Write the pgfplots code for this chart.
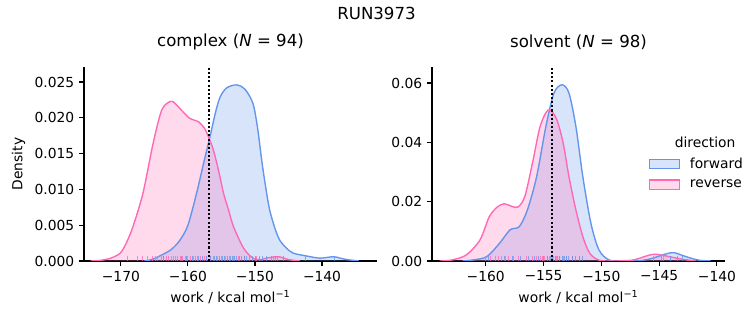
\documentclass[border=0pt]{standalone}
\usepackage{fontspec}
\setmainfont{DejaVu Sans}
\usepackage{pgfplots}
\usepackage{pgfplotstable}
\pgfplotsset{compat=1.18}
\definecolor{fwd}{HTML}{6495ED}
\definecolor{rev}{HTML}{FF69B4}

% complex, forward
\pgfplotstableread{
x y
-166.5 0
-165.4 0.0002
-164.0 0.0008
-162.5 0.0016
-161.2 0.0029
-160.0 0.0050
-158.7 0.0095
-157.7 0.0135
-156.7 0.0174
-155.9 0.0207
-155.2 0.0229
-154.2 0.0242
-152.7 0.0246
-151.5 0.0240
-150.3 0.0220
-149.6 0.0185
-149.0 0.0141
-148.4 0.0103
-147.8 0.0071
-147.0 0.0045
-146.3 0.0029
-145.3 0.0018
-144.3 0.0011
-142.3 0.0007
-140.3 0.0004
-138.3 0.0006
-137.3 0.0004
-136.3 0.0002
-134.5 0
}\cfwd
% complex, reverse
\pgfplotstableread{
x y
-174.5 0
-173.0 0.0001
-171.5 0.0004
-170.1 0.0011
-169.2 0.0025
-168.2 0.0048
-166.7 0.0095
-165.2 0.0164
-163.9 0.0211
-162.6 0.0223
-161.9 0.0220
-161.2 0.0213
-159.7 0.0199
-158.5 0.0195
-157.5 0.0185
-156.8 0.0170
-156.2 0.0155
-155.4 0.0125
-154.7 0.0095
-153.9 0.0070
-153.2 0.0048
-151.7 0.0018
-150.3 0.0004
-149.0 0.0002
-148.3 0.0004
-146.5 0.0006
-145.0 0.0002
-143.3 0
}\crev
% solvent, forward
\pgfplotstableread{
x y
-162.0 0
-161.0 0.0004
-159.9 0.0015
-158.8 0.0060
-157.9 0.0105
-157.1 0.0116
-156.4 0.0172
-155.6 0.0284
-154.8 0.0453
-154.1 0.0566
-153.4 0.0594
-152.8 0.0566
-152.2 0.0453
-151.6 0.0284
-150.9 0.0127
-150.2 0.0037
-149.3 0.0003
-148.0 0
-146.5 0.0002
-145.6 0.0009
-144.4 0.0024
-143.7 0.0028
-142.7 0.0015
-141.6 0.0003
-140.5 0
}\sfwd
% solvent, reverse
\pgfplotstableread{
x y
-164.0 0
-163.0 0.0003
-161.7 0.0020
-160.5 0.0071
-159.7 0.0149
-159.0 0.0182
-158.4 0.0193
-157.8 0.0185
-157.2 0.0182
-156.6 0.0220
-155.9 0.0341
-155.3 0.0453
-154.6 0.0509
-153.9 0.0481
-153.3 0.0397
-152.8 0.0284
-152.2 0.0172
-151.6 0.0082
-151.0 0.0026
-150.2 0.0003
-149.0 0
-147.3 0.0003
-146.1 0.0017
-145.4 0.0023
-144.4 0.0017
-143.0 0.0006
-141.8 0
}\srev
% rugs (x, rug height)
\pgfplotstableread{
x h
-169 1
-167.5 1
-166.8 1
-166 1
-165.3 1
-164.9 1
-164.5 1
-164 1
-163.6 1
-163.2 1
-162.9 1
-162.5 1
-162.2 1
-161.9 1
-161.5 1
-161.1 1
-160.8 1
-160.4 1
-160 1
-159.6 1
-159.2 1
-158.9 1
-158.5 1
-158.1 1
-157.6 1
-157.2 1
-156.7 1
-156.2 1
-155.6 1
-155 1
-154.4 1
-153.8 1
-153.2 1
-152.4 1
-151.5 1
-149.8 1
-147.2 1
-146.6 1
}\crevrug
\pgfplotstableread{
x h
-163.6 1
-161 1
-160.2 1
-159.3 1
-158.4 1
-157.8 1
-157.2 1
-156.6 1
-156.1 1
-155.7 1
-155.3 1
-154.9 1
-154.5 1
-154.1 1
-153.7 1
-153.4 1
-153 1
-152.7 1
-152.3 1
-152 1
-151.6 1
-151.2 1
-150.8 1
-150.4 1
-149.9 1
-149.4 1
-148.9 1
-148.3 1
-147.6 1
-146.9 1
-145.8 1
-142.5 1
-138.2 1
}\cfwdrug
\pgfplotstableread{
x h
-160 1
-159.6 1
-159.2 1
-158.9 1
-158.6 1
-158.3 1
-158 1
-157.6 1
-157.2 1
-156.5 1
-156 1
-155.6 1
-155.3 1
-155.1 1
-154.9 1
-154.7 1
-154.5 1
-154.3 1
-154.1 1
-153.9 1
-153.6 1
-153.3 1
-153 1
-152.5 1
-151.9 1
-145.5 1
-144.6 1
}\srevrug
\pgfplotstableread{
x h
-159.8 1
-158.4 1
-157.7 1
-157 1
-156.3 1
-155.8 1
-155.4 1
-155 1
-154.7 1
-154.4 1
-154.2 1
-154 1
-153.8 1
-153.6 1
-153.4 1
-153.2 1
-153 1
-152.8 1
-152.5 1
-152.2 1
-151.9 1
-151.6 1
-144.8 1
-144 1
-143.4 1
-143.0 1
}\sfwdrug

\pgfplotsset{
  kde/.style={
    scale only axis, width=2.93in, height=1.94in,
    axis lines=left, axis line style={-, line width=0.8pt},
    tick style={black, line width=0.8pt}, tick align=outside,
    major tick length=3.5pt,
    tick label style={font=\fontsize{10}{12}\selectfont},
    label style={font=\fontsize{10}{12}\selectfont},
    title style={font=\fontsize{12}{14}\selectfont, at={(0.5,1)}, anchor=south, yshift=3pt},
    scaled ticks=false, ymin=0, clip mode=individual,
    xlabel={work / kcal mol\textsuperscript{−1}},
  },
  fillf/.style={draw=none, fill=fwd, fill opacity=0.25},
  fillr/.style={draw=none, fill=rev, fill opacity=0.25},
  linef/.style={fwd, line width=1pt, smooth, tension=0.5},
  liner/.style={rev, line width=1pt, smooth, tension=0.5},
  rug/.style={ycomb, line width=0.7pt, draw opacity=0.75, no marks},
}

\begin{document}
\begin{tikzpicture}
\path[use as bounding box] (0,0) rectangle (7.53in,3.25in);
\node[font=\fontsize{12}{14}\selectfont] at (3.765in,3.12in) {RUN3973};

\begin{axis}[kde, at={(0.84in,0.64in)}, anchor=south west,
  xmin=-175.5, xmax=-131.8, ymax=0.0271,
  xtick={-170,-160,-150,-140}, xticklabels={−170,−160,−150,−140},
  ytick={0,0.005,0.010,0.015,0.020,0.025},
  yticklabels={0.000,0.005,0.010,0.015,0.020,0.025},
  ylabel={Density},
  title={complex (\textit{N} = 94)}]
\addplot[fillf, smooth, tension=0.5] table[x=x,y=y] {\cfwd} \closedcycle;
\addplot[fillr, smooth, tension=0.5] table[x=x,y=y] {\crev} \closedcycle;
\addplot[linef] table[x=x,y=y] {\cfwd};
\addplot[liner] table[x=x,y=y] {\crev};
\addplot[rug, rev] table[x=x, y expr=0.00068*\thisrow{h}] {\crevrug};
\addplot[rug, fwd] table[x=x, y expr=0.00068*\thisrow{h}] {\cfwdrug};
\addplot[black, line width=1.5pt, dash pattern=on 1.5pt off 1.5pt] coordinates {(-156.9,0) (-156.9,0.0271)};
\end{axis}

\begin{axis}[kde, at={(4.32in,0.64in)}, anchor=south west,
  xmin=-164.65, xmax=-139.3, ymax=0.0654,
  xtick={-160,-155,-150,-145,-140}, xticklabels={−160,−155,−150,−145,−140},
  ytick={0,0.02,0.04,0.06},
  yticklabels={0.00,0.02,0.04,0.06},
  title={solvent (\textit{N} = 98)},
  legend style={at={(rel axis cs:0.738,0.548)}, anchor=north west, draw=none, fill=none,
    font=\fontsize{10}{12}\selectfont, inner sep=0pt, row sep=3pt, column sep=5pt,
    cells={anchor=west}},
  legend image code/.code={\draw[#1, line width=0.9pt] (0pt,-3.5pt) rectangle (22pt,3.5pt);}]
\addlegendimage{draw=fwd, fill=fwd!25}
\addlegendentry{forward}
\addlegendimage{draw=rev, fill=rev!25}
\addlegendentry{reverse}
\addplot[fillf, smooth, tension=0.5, forget plot] table[x=x,y=y] {\sfwd} \closedcycle;
\addplot[fillr, smooth, tension=0.5, forget plot] table[x=x,y=y] {\srev} \closedcycle;
\addplot[linef, forget plot] table[x=x,y=y] {\sfwd};
\addplot[liner, forget plot] table[x=x,y=y] {\srev};
\addplot[rug, rev, forget plot] table[x=x, y expr=0.00164*\thisrow{h}] {\srevrug};
\addplot[rug, fwd, forget plot] table[x=x, y expr=0.00164*\thisrow{h}] {\sfwdrug};
\addplot[black, line width=1.5pt, dash pattern=on 1.5pt off 1.5pt, forget plot] coordinates {(-154.3,0) (-154.3,0.0654)};
\node[font=\fontsize{10}{12}\selectfont] at (rel axis cs:0.932,0.613) {direction};
\end{axis}
\end{tikzpicture}
\end{document}
